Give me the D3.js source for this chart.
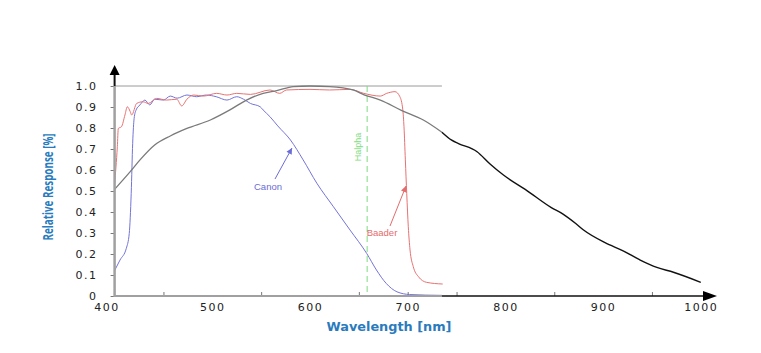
<!DOCTYPE html>
<head>
  <meta charset="utf-8">
  <script src="https://d3js.org/d3.v7.min.js"></script>
  <style>
    body { margin:0; background:#fff; }
  </style>
</head>
<body>
<script>
  // values
  var sensorNm  = [400,416,426,441,457,474,498,518,535,552,566,583,600,620,644,656,672,694,716,735,745,752,771,784,798,822,847,859,872,880,902,921,938,955,972,1000];
  var sensorVal = [0.508,0.592,0.648,0.719,0.762,0.798,0.838,0.886,0.933,0.965,0.978,0.997,1.0,0.997,0.981,0.957,0.933,0.883,0.838,0.780,0.742,0.726,0.687,0.63,0.576,0.502,0.421,0.39,0.345,0.314,0.254,0.214,0.171,0.136,0.113,0.065];

  var canonNm  = [400,405.5,412,415,417,418.5,420,422,426,431,436,441,450,457,464,474,484,494,504,515,525,532,539,549,552,559,567,580,593,607,624,641,658,668,678,689,702,735];
  var canonVal = [0.121,0.171,0.227,0.298,0.489,0.727,0.846,0.886,0.91,0.933,0.91,0.937,0.933,0.952,0.942,0.957,0.949,0.957,0.949,0.933,0.949,0.937,0.917,0.901,0.886,0.854,0.81,0.743,0.648,0.537,0.425,0.314,0.203,0.124,0.06,0.02,0.007,0.003];

  var baaderNm  = [400,402.8,403.8,407,410.6,413,416,417.5,422.6,429,434.5,443,453,463.6,468.7,474,481,491,504.5,515,525,539,559,569,576,600,620,641,655,672,678.5,687,692,695,696.2,697.6,699,700.6,702.4,705.7,711,719.4,735.8];
  var baaderVal = [0.536,0.711,0.798,0.806,0.862,0.901,0.878,0.862,0.917,0.925,0.917,0.941,0.933,0.937,0.905,0.937,0.957,0.952,0.965,0.957,0.965,0.960,0.981,0.965,0.981,0.984,0.981,0.984,0.965,0.952,0.965,0.973,0.949,0.886,0.806,0.648,0.489,0.33,0.219,0.14,0.092,0.065,0.057];

  var halphaNm = 658.5;
  var frameEnd = 735;   // right edge of the framed part of the plot

  var xTicks = [400,500,600,700,800,900,1000];
  var xMinor = [450,550,650,700,750,850,950];
  var yTicks = [0,0.1,0.2,0.3,0.4,0.5,0.6,0.7,0.8,0.9,1.0];

  var width = 761, height = 353;

  var svg = d3.select("body").append("svg")
    .attr("width", width)
    .attr("height", height);

  var x = d3.scaleLinear().domain([400,1000]).range([114.6,700.8]);
  var y = d3.scaleLinear().domain([0,1]).range([296,86]);

  var line = d3.line()
    .curve(d3.curveMonotoneX)
    .x(function(d){ return x(d[0]); })
    .y(function(d){ return y(d[1]); });

  function pairs(a, b){
    return a.map(function(v,i){ return [v, b[i]]; });
  }

  var sensor = pairs(sensorNm, sensorVal);
  var canon = pairs(canonNm, canonVal);
  var baader = pairs(baaderNm, baaderVal);

  // frame top line
  svg.append("line")
    .attr("x1", x(400)).attr("x2", x(frameEnd))
    .attr("y1", y(1)).attr("y2", y(1))
    .attr("stroke", "#9a9a9a").attr("stroke-width", 1);

  // minor ticks on the bottom axis
  var minor = svg.append("g")
    .attr("transform", "translate(0," + y(0) + ")")
    .call(d3.axisBottom(x).tickValues(xMinor).tickSize(-4).tickFormat(""));
  minor.select(".domain").remove();
  minor.selectAll("line").attr("stroke", "#777");

  // x tick labels
  var xa = svg.append("g")
    .attr("transform", "translate(0," + y(0) + ")")
    .call(d3.axisBottom(x).tickValues(xTicks).tickSize(0).tickPadding(7)
      .tickFormat(d3.format("d")));
  xa.select(".domain").remove();
  xa.selectAll("text")
    .attr("font-family", "DejaVu Sans")
    .attr("font-size", 11)
    .attr("letter-spacing", "1.5px")
    .attr("fill", "#222")
    .attr("dx", function(d){ return d === 400 ? -8 : 0; });

  // y axis ticks and labels
  var ya = svg.append("g")
    .attr("transform", "translate(" + x(400) + ",0)")
    .call(d3.axisLeft(y).tickValues(yTicks).tickSize(4).tickPadding(13)
      .tickFormat(function(d){ return d === 0 ? "0" : d.toFixed(1); }));
  ya.select(".domain").remove();
  ya.selectAll("line").attr("stroke", "#777");
  ya.selectAll("text")
    .attr("font-family", "DejaVu Sans")
    .attr("font-size", 11)
    .attr("letter-spacing", "1.5px")
    .attr("fill", "#222");

  // Halpha marker
  svg.append("line")
    .attr("x1", x(halphaNm)).attr("x2", x(halphaNm))
    .attr("y1", y(1)).attr("y2", y(0))
    .attr("stroke", "#7fdc7f").attr("stroke-width", 1)
    .attr("stroke-dasharray", "6,4");
  svg.append("text")
    .attr("transform", "translate(" + (x(halphaNm) - 6) + "," + y(0.71) + ") rotate(-90)")
    .attr("text-anchor", "middle")
    .attr("font-family", "Liberation Sans")
    .attr("font-size", 9)
    .attr("fill", "#7fdc7f")
    .text("Halpha");

  // curves
  svg.append("path").datum(canon).attr("d", line)
    .attr("fill", "none").attr("stroke", "#7474d8").attr("stroke-width", 1);
  svg.append("path").datum(baader).attr("d", line)
    .attr("fill", "none").attr("stroke", "#e87272").attr("stroke-width", 1);
  svg.append("path").datum(sensor.filter(function(d){ return d[0] <= frameEnd; })).attr("d", line)
    .attr("fill", "none").attr("stroke", "#7a7a7a").attr("stroke-width", 1.3);
  svg.append("path").datum(sensor.filter(function(d){ return d[0] >= frameEnd; })).attr("d", line)
    .attr("fill", "none").attr("stroke", "#111").attr("stroke-width", 1.4);

  // axes lines: grey inside the frame, black outside
  svg.append("line")
    .attr("x1", x(400)).attr("x2", x(400)).attr("y1", y(0) + 1).attr("y2", y(1))
    .attr("stroke", "#a0a0a0").attr("stroke-width", 2.5);
  svg.append("line")
    .attr("x1", x(400)).attr("x2", x(400)).attr("y1", y(1)).attr("y2", 72)
    .attr("stroke", "#111").attr("stroke-width", 2);
  svg.append("line")
    .attr("x1", x(400)).attr("x2", x(frameEnd)).attr("y1", y(0)).attr("y2", y(0))
    .attr("stroke", "#a0a0a0").attr("stroke-width", 2);
  svg.append("line")
    .attr("x1", x(frameEnd)).attr("x2", 706).attr("y1", y(0)).attr("y2", y(0))
    .attr("stroke", "#111").attr("stroke-width", 1.6);

  // arrow heads
  var ax = x(400);
  svg.append("path")
    .attr("d", "M" + (ax - 5) + ",75L" + ax + ",65L" + (ax + 5) + ",75Z")
    .attr("fill", "#000");
  svg.append("path")
    .attr("d", "M703," + (y(0) - 5) + "L717," + y(0) + "L703," + (y(0) + 5) + "Z")
    .attr("fill", "#000");

  // annotations
  function note(label, color, tx, ty, fromX, fromY, toX, toY){
    svg.append("line")
      .attr("x1", fromX).attr("y1", fromY).attr("x2", toX).attr("y2", toY)
      .attr("stroke", color).attr("stroke-width", 1);
    var ang = Math.atan2(toY - fromY, toX - fromX);
    var len = 6, w = 3;
    var bx = toX - len * Math.cos(ang), by = toY - len * Math.sin(ang);
    svg.append("path")
      .attr("d", "M" + toX + "," + toY +
        "L" + (bx + w * Math.sin(ang)) + "," + (by - w * Math.cos(ang)) +
        "L" + (bx - w * Math.sin(ang)) + "," + (by + w * Math.cos(ang)) + "Z")
      .attr("fill", color);
    svg.append("text")
      .attr("x", tx).attr("y", ty)
      .attr("text-anchor", "middle")
      .attr("font-family", "Liberation Sans")
      .attr("font-size", 9.5)
      .attr("fill", color)
      .text(label);
  }
  note("Canon", "#6c6cd6", 268, 190, 275, 179, 292, 148);
  note("Baader", "#e46c6c", 382, 236, 390, 226, 406, 186);

  // axis titles
  svg.append("text")
    .attr("transform", "translate(53,187) rotate(-90)")
    .attr("text-anchor", "middle")
    .attr("font-family", "Open Sans")
    .attr("font-weight", "bold")
    .attr("font-size", 14)
    .attr("textLength", 107)
    .attr("lengthAdjust", "spacingAndGlyphs")
    .attr("fill", "#2a7bbd")
    .text("Relative Response [%]");

  svg.append("text")
    .attr("x", 389).attr("y", 331)
    .attr("text-anchor", "middle")
    .attr("font-family", "DejaVu Sans")
    .attr("font-weight", "bold")
    .attr("font-size", 12)
    .attr("textLength", 125)
    .attr("lengthAdjust", "spacingAndGlyphs")
    .attr("fill", "#2a7bbd")
    .text("Wavelength [nm]");
</script>
</body>
